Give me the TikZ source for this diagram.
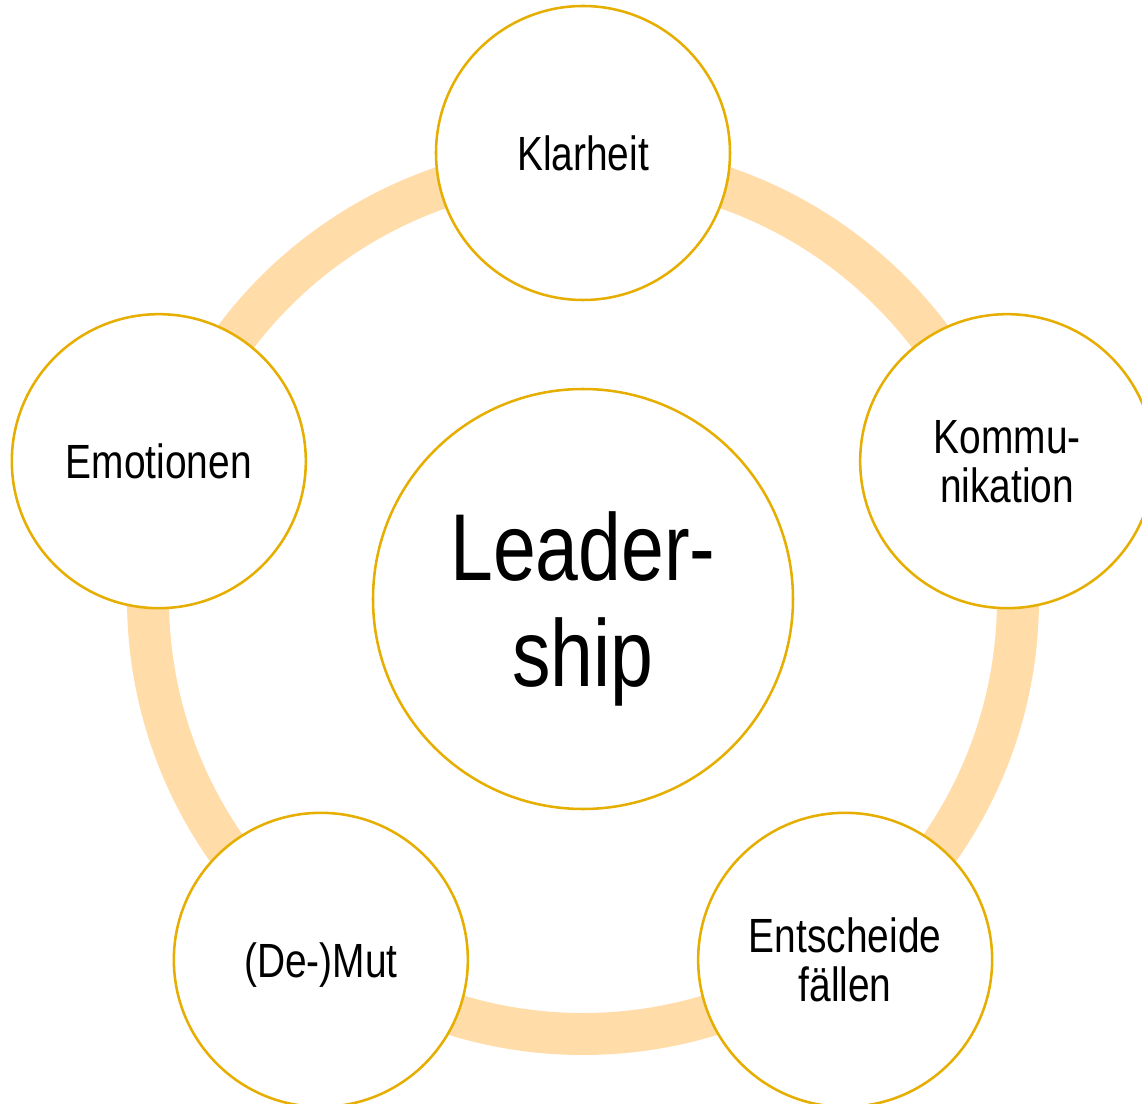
\documentclass[tikz,border=0pt]{standalone}
\usepackage{fontspec}
\setmainfont{Liberation Sans}[FakeStretch=0.81]
\usetikzlibrary{backgrounds}

\definecolor{ringpeach}{HTML}{FFDCA8}
\definecolor{rimgold}{HTML}{E6AE00}

\begin{document}
\begin{tikzpicture}[
    x=0.75pt, y=0.75pt,
    hub/.style={
        circle,
        draw=rimgold,
        line width=1.9pt,
        fill=white,
        align=center,
        inner sep=0pt,
        text depth=0pt,
        minimum size=315pt,
        font=\fontsize{71.25pt}{79pt}\selectfont
    },
    spoke/.style={
        hub,
        minimum size=220.5pt,
        font=\fontsize{36pt}{36.75pt}\selectfont
    },
    ring/.style={
        draw=ringpeach,
        line width=31.5pt
    }
]

\path[use as bounding box] (-583,-504) rectangle (559,599);
\clip (-583,-504) rectangle (559,599);

\node[hub] (leadership) at (0,0) {Leader-\\ship};

% five topics around the centre
\node[spoke] (klarheit) at (90:446) {Klarheit};
\node[spoke] (kommunikation) at (18:446) {Kommu-\\nikation};
\node[spoke] (entscheide) at (-54:446) {Entscheide\\fällen};
\node[spoke] (demut) at (-126:446) {(De-)Mut};
\node[spoke] (emotionen) at (162:446) {Emotionen};

\begin{scope}[on background layer]
\draw[ring] (leadership.center) circle[radius=326.25pt];
\end{scope}

\end{tikzpicture}
\end{document}
